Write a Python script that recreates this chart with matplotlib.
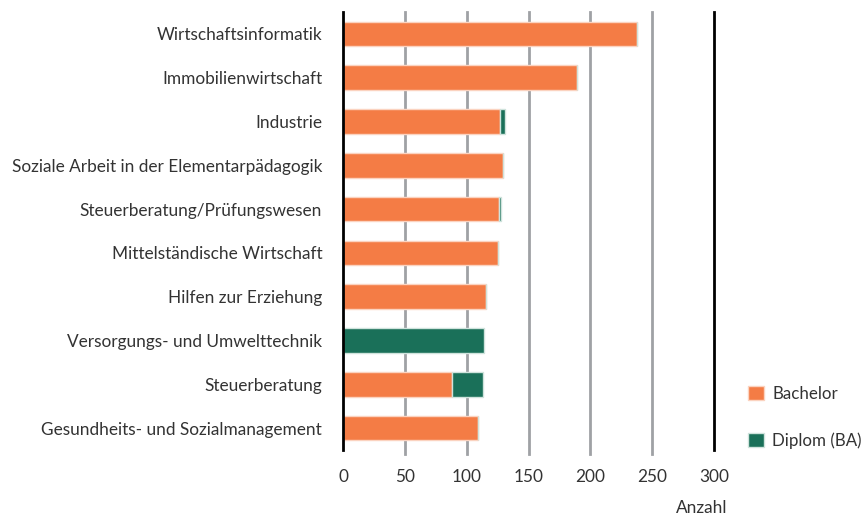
import matplotlib.pyplot as plt
import numpy as np

plt.rcParams['font.family'] = ['Lato', 'DejaVu Sans']

# data (top to bottom)
categories = ["Wirtschaftsinformatik", "Immobilienwirtschaft", "Industrie",
              "Soziale Arbeit in der Elementarpädagogik", "Steuerberatung/Prüfungswesen",
              "Mittelständische Wirtschaft", "Hilfen zur Erziehung",
              "Versorgungs- und Umwelttechnik", "Steuerberatung",
              "Gesundheits- und Sozialmanagement"]
bachelor = [238, 189, 127, 129, 126, 125, 116, 0, 88, 109]
diplom = [0, 0, 4, 0, 2, 0, 0, 114, 25, 0]
xticks = [0, 50, 100, 150, 200, 250, 300]

orange = "#F47C45"
green = "#1A7059"
textcol = "#333333"
fs = 12.4

fig = plt.figure(figsize=(8.63, 5.15), dpi=100)
ax = fig.add_axes([343 / 863, 1 - 450 / 515, (714 - 343) / 863, 438 / 515])

y = np.arange(len(categories))
ax.barh(y, bachelor, height=0.56, color=orange, edgecolor="#fbd3c0", linewidth=1,
        label="Bachelor", zorder=3)
ax.barh(y, diplom, left=bachelor, height=0.56, color=green, edgecolor="#cfe3dc",
        linewidth=1, label="Diplom (BA)", zorder=3)

ax.set_ylim(len(categories) - 0.5, -0.5)
ax.set_xlim(0, 300)
ax.set_yticks(y)
ax.set_yticklabels(categories)
ax.set_xticks(xticks)
ax.tick_params(axis="both", length=0, labelsize=fs, colors=textcol)
ax.tick_params(axis="x", pad=14)
ax.tick_params(axis="y", pad=15)

for x in xticks[1:-1]:
    ax.axvline(x, color="#9fa1a5", linewidth=2, zorder=1, ymin=-0.008, ymax=1, clip_on=False)

for s in ["top", "bottom"]:
    ax.spines[s].set_visible(False)
ax.spines["left"].set_linewidth(2)
ax.spines["right"].set_linewidth(2)
ax.spines["left"].set_zorder(4)

ax.set_xlabel("Anzahl", fontsize=fs, color=textcol)
ax.xaxis.set_label_coords(1.037, -0.115)
ax.xaxis.label.set_horizontalalignment("right")

ax.legend(loc="upper left", bbox_to_anchor=(1.092, 0.146), frameon=False, borderpad=0,
          borderaxespad=0, fontsize=12.2, handlelength=0.92, handleheight=0.92,
          labelspacing=1.8, handletextpad=0.5, labelcolor=textcol)

fig.savefig("out.png", dpi=100)
